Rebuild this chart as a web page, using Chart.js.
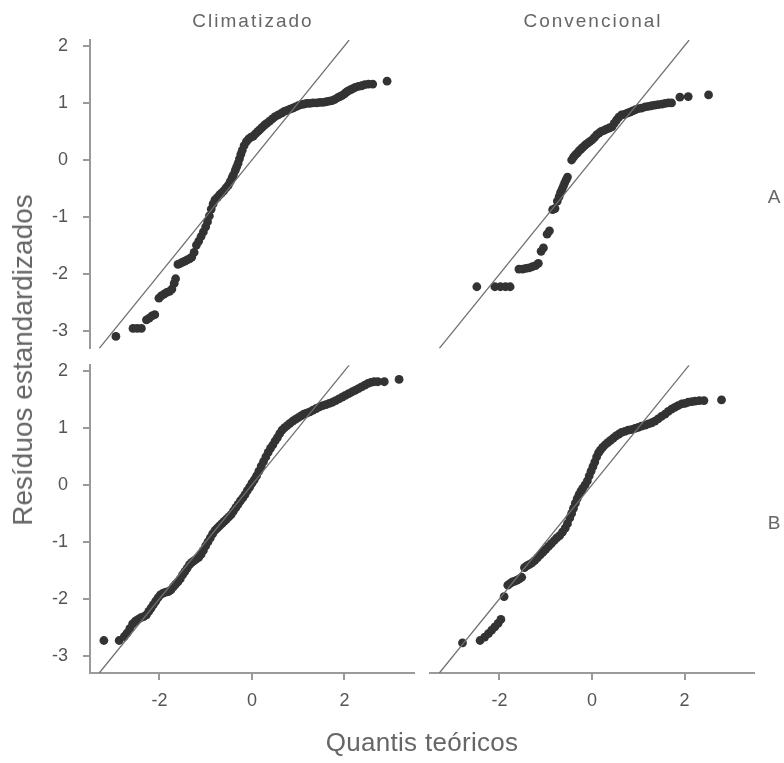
<!DOCTYPE html>
<html>
<head>
<meta charset="utf-8">
<script src="https://cdn.jsdelivr.net/npm/chart.js@4.4.0/dist/chart.umd.min.js"></script>
<style>
html,body{margin:0;padding:0;background:#fff;}
#wrap{position:relative;width:784px;height:763px;overflow:hidden;font-family:"Liberation Sans",Arial,sans-serif;}
canvas{position:absolute;}
.t{position:absolute;transform:translate(-50%,-50%);white-space:nowrap;color:#666;line-height:1;}
</style>
</head>
<body>
<div id="wrap">
  <canvas id="tl" width="420" height="360" style="left:0;top:0;"></canvas>
  <canvas id="tr" width="364" height="360" style="left:420px;top:0;"></canvas>
  <canvas id="bl" width="420" height="400" style="left:0;top:340px;"></canvas>
  <canvas id="br" width="364" height="400" style="left:420px;top:340px;"></canvas>
  <div class="t" id="colA" style="left:253px;top:20px;font-size:19px;letter-spacing:2px;">Climatizado</div>
  <div class="t" id="colB" style="left:593px;top:20px;font-size:19px;letter-spacing:2px;">Convencional</div>
  <div class="t" id="rowA" style="left:774px;top:196px;font-size:19px;">A</div>
  <div class="t" id="rowB" style="left:774px;top:522px;font-size:19px;">B</div>
  <div class="t" id="ytitle" style="left:23px;top:360px;font-size:28px;transform:translate(-50%,-50%) rotate(-90deg);">Resíduos estandardizados</div>
  <div class="t" id="xtitle" style="left:422px;top:742px;font-size:26px;letter-spacing:0.3px;">Quantis teóricos</div>
</div>
<script>
// ---- data (theoretical quantile, standardized residual) ----
const columnTitles = ["Climatizado", "Convencional"];
const rowTitles = ["A", "B"];
const xTickValues = [-2, 0, 2];
const yTickValues = [-3, -2, -1, 0, 1, 2];
const refLine = [-3.3, 2.1]; // y = x reference line ends

const climatizadoA = [
[-2.94,-3.09],
[-2.57,-2.95],[-2.48,-2.95],[-2.39,-2.95],
[-2.28,-2.80],[-2.22,-2.77],[-2.16,-2.73],[-2.10,-2.71],
[-2.01,-2.42],[-1.96,-2.38],[-1.90,-2.35],[-1.84,-2.32],[-1.78,-2.30],[-1.73,-2.26],[-1.68,-2.16],[-1.65,-2.08],
[-1.60,-1.83],[-1.55,-1.81],[-1.50,-1.79],[-1.45,-1.77],[-1.40,-1.75],[-1.35,-1.73],
[-1.30,-1.70],[-1.25,-1.62],[-1.20,-1.49],[-1.15,-1.42],[-1.10,-1.34],[-1.05,-1.26],[-1.00,-1.17],
[-0.96,-1.08],[-0.92,-0.98],[-0.88,-0.86],[-0.84,-0.77],[-0.80,-0.70],[-0.75,-0.66],[-0.70,-0.61],
[-0.66,-0.58],[-0.61,-0.54],[-0.56,-0.49],[-0.51,-0.44],[-0.47,-0.38],[-0.43,-0.31],[-0.40,-0.26],
[-0.36,-0.18],[-0.33,-0.12],[-0.30,-0.06],[-0.27,0.02],[-0.24,0.10],[-0.21,0.17],[-0.17,0.25],
[-0.12,0.32],[-0.07,0.37],[-0.02,0.40],[0.03,0.42],[0.08,0.46],[0.13,0.50],[0.17,0.53],[0.22,0.57],
[0.27,0.61],[0.32,0.64],[0.38,0.68],[0.44,0.72],[0.50,0.76],[0.57,0.79],[0.64,0.82],[0.70,0.85],
[0.76,0.87],[0.82,0.89],[0.88,0.91],[0.94,0.93],[1.00,0.95],[1.06,0.97],[1.12,0.98],[1.18,0.99],
[1.25,0.99],[1.32,1.00],[1.40,1.00],[1.47,1.01],[1.54,1.01],[1.61,1.02],[1.67,1.03],[1.73,1.04],
[1.79,1.06],[1.85,1.09],[1.90,1.11],[1.95,1.13],[2.00,1.16],[2.04,1.19],[2.08,1.21],[2.13,1.23],
[2.18,1.25],[2.23,1.27],[2.30,1.29],[2.37,1.30],[2.44,1.32],[2.52,1.33],[2.61,1.33],
[2.92,1.38]
];

const convencionalA = [
[-2.49,-2.22],
[-2.10,-2.22],[-1.98,-2.22],[-1.87,-2.22],[-1.77,-2.22],
[-1.58,-1.91],[-1.50,-1.91],[-1.43,-1.90],[-1.36,-1.89],[-1.29,-1.87],[-1.22,-1.85],[-1.16,-1.81],
[-1.10,-1.60],[-1.05,-1.54],
[-0.97,-1.30],[-0.92,-1.24],
[-0.85,-0.87],[-0.80,-0.85],
[-0.75,-0.72],[-0.71,-0.64],[-0.68,-0.57],[-0.65,-0.52],[-0.62,-0.46],[-0.59,-0.40],[-0.56,-0.35],[-0.53,-0.30],
[-0.44,0.00],[-0.40,0.05],[-0.36,0.09],[-0.32,0.12],[-0.28,0.16],[-0.24,0.19],[-0.20,0.22],[-0.15,0.26],
[-0.10,0.29],[-0.05,0.32],[0.00,0.35],[0.05,0.39],[0.10,0.44],[0.15,0.47],[0.20,0.50],[0.26,0.52],
[0.31,0.54],[0.37,0.56],[0.43,0.58],[0.48,0.64],[0.53,0.70],[0.58,0.75],[0.64,0.79],[0.70,0.80],
[0.76,0.82],[0.82,0.84],[0.88,0.86],[0.94,0.88],[1.00,0.90],[1.07,0.91],[1.15,0.93],[1.22,0.94],
[1.29,0.95],[1.36,0.96],[1.43,0.97],[1.51,0.98],[1.58,0.99],[1.65,1.00],[1.72,1.00],
[1.90,1.10],[2.08,1.11],
[2.52,1.14]
];

const climatizadoB = [
[-3.20,-2.73],
[-2.87,-2.73],
[-2.76,-2.66],[-2.70,-2.60],[-2.64,-2.52],
[-2.58,-2.44],[-2.52,-2.39],[-2.46,-2.36],[-2.40,-2.33],[-2.34,-2.31],[-2.28,-2.28],
[-2.23,-2.22],[-2.18,-2.16],[-2.13,-2.10],[-2.08,-2.04],[-2.03,-1.98],[-1.98,-1.93],[-1.92,-1.90],
[-1.86,-1.88],[-1.80,-1.87],[-1.75,-1.84],[-1.70,-1.79],[-1.65,-1.74],[-1.60,-1.70],[-1.55,-1.65],
[-1.50,-1.58],[-1.45,-1.52],[-1.40,-1.46],[-1.35,-1.40],[-1.30,-1.36],[-1.25,-1.33],[-1.20,-1.30],
[-1.15,-1.27],[-1.10,-1.22],[-1.05,-1.15],[-1.00,-1.07],[-0.95,-1.00],[-0.90,-0.93],[-0.85,-0.86],
[-0.80,-0.80],[-0.75,-0.76],[-0.70,-0.72],[-0.65,-0.68],[-0.60,-0.64],[-0.55,-0.60],[-0.50,-0.56],
[-0.45,-0.52],[-0.40,-0.46],[-0.35,-0.40],[-0.30,-0.34],[-0.25,-0.28],[-0.20,-0.23],[-0.15,-0.17],
[-0.10,-0.10],[-0.05,-0.04],[0.00,0.03],[0.05,0.09],[0.10,0.16],[0.15,0.24],[0.20,0.33],[0.25,0.41],
[0.30,0.49],[0.35,0.57],[0.40,0.64],[0.45,0.70],[0.50,0.77],[0.55,0.83],[0.60,0.90],[0.65,0.96],
[0.70,1.00],[0.76,1.04],[0.82,1.08],[0.88,1.12],[0.94,1.15],[1.00,1.18],[1.06,1.21],[1.12,1.24],
[1.18,1.26],[1.25,1.28],[1.32,1.31],[1.39,1.34],[1.46,1.37],[1.53,1.39],[1.60,1.41],[1.67,1.43],
[1.74,1.45],[1.81,1.48],[1.88,1.51],[1.95,1.54],[2.02,1.57],[2.09,1.60],[2.16,1.63],[2.23,1.66],
[2.30,1.69],[2.37,1.72],[2.44,1.75],[2.51,1.78],[2.57,1.80],[2.64,1.81],[2.72,1.81],[2.86,1.81],
[3.18,1.85]
];

const convencionalB = [
[-2.80,-2.77],
[-2.42,-2.73],[-2.32,-2.67],[-2.24,-2.61],[-2.17,-2.55],[-2.10,-2.49],[-2.03,-2.43],[-1.97,-2.36],
[-1.90,-1.96],
[-1.82,-1.76],[-1.77,-1.73],[-1.72,-1.70],[-1.67,-1.69],[-1.62,-1.67],[-1.57,-1.65],[-1.52,-1.62],
[-1.46,-1.45],[-1.41,-1.42],[-1.36,-1.40],[-1.30,-1.37],[-1.24,-1.33],[-1.18,-1.28],[-1.12,-1.23],
[-1.06,-1.18],[-1.00,-1.13],[-0.94,-1.08],[-0.88,-1.03],[-0.82,-0.98],[-0.76,-0.93],[-0.70,-0.89],
[-0.64,-0.83],[-0.58,-0.76],[-0.53,-0.68],[-0.48,-0.58],[-0.44,-0.50],[-0.40,-0.41],[-0.36,-0.32],
[-0.32,-0.24],[-0.28,-0.17],[-0.24,-0.11],[-0.20,-0.06],[-0.15,0.00],[-0.10,0.07],[-0.06,0.16],
[-0.02,0.24],[0.02,0.32],[0.06,0.40],[0.10,0.49],[0.14,0.56],[0.18,0.61],[0.23,0.66],[0.28,0.70],
[0.34,0.74],[0.40,0.78],[0.46,0.82],[0.52,0.86],[0.58,0.89],[0.64,0.92],[0.71,0.94],[0.78,0.96],
[0.85,0.97],[0.93,0.99],[1.00,1.01],[1.07,1.03],[1.15,1.05],[1.22,1.07],[1.29,1.09],[1.36,1.12],
[1.43,1.16],[1.50,1.20],[1.58,1.24],[1.65,1.29],[1.72,1.33],[1.79,1.36],[1.86,1.39],[1.94,1.42],
[2.01,1.43],[2.08,1.45],[2.16,1.46],[2.23,1.47],[2.32,1.48],[2.42,1.48],
[2.80,1.49]
];

// ---- drawing ----
const FONT = "'Liberation Sans', Arial, sans-serif";
const AXIS_COLOR = '#9a9a9a';
const TICK_COLOR = '#555';

function makePanel(id, points, o) {
  const xScale = {
    type: 'linear', min: -3.5, max: 3.5, display: o.showX, offset: false,
    afterBuildTicks: s => { s.ticks = xTickValues.map(v => ({ value: v })); },
    border: { display: true, color: AXIS_COLOR, width: 2 },
    grid: { drawOnChartArea: false, drawTicks: true, tickLength: 7, color: AXIS_COLOR, lineWidth: 2 },
    ticks: { color: TICK_COLOR, font: { family: FONT, size: 18 }, padding: 10, maxRotation: 0, autoSkip: false }
  };
  if (o.showX) xScale.afterFit = s => { s.height = 67; s.paddingLeft = 0; s.paddingRight = 0; };
  const yScale = {
    type: 'linear', min: -3.3, max: 2.1, display: o.showY, offset: false,
    afterBuildTicks: s => { s.ticks = yTickValues.map(v => ({ value: v })); },
    border: { display: true, color: AXIS_COLOR, width: 2 },
    grid: { drawOnChartArea: false, drawTicks: true, tickLength: 7, color: AXIS_COLOR, lineWidth: 2 },
    ticks: { color: TICK_COLOR, font: { family: FONT, size: 18 }, padding: 15, autoSkip: false }
  };
  if (o.showY) yScale.afterFit = s => { s.width = 90; s.paddingTop = 0; s.paddingBottom = 0; };
  return new Chart(document.getElementById(id), {
    type: 'scatter',
    data: {
      datasets: [
        {
          data: refLine.map(v => ({ x: v, y: v })),
          showLine: true, borderColor: '#707070', borderWidth: 1.3,
          pointRadius: 0, order: 0
        },
        {
          data: points.map(p => ({ x: p[0], y: p[1] })),
          backgroundColor: '#333333', borderWidth: 0, pointRadius: 4.4, order: 1
        }
      ]
    },
    options: {
      responsive: false, animation: false, events: [],
      layout: { autoPadding: false, padding: o.pad },
      plugins: { legend: { display: false }, tooltip: { enabled: false }, title: { display: false } },
      scales: { x: xScale, y: yScale }
    }
  });
}

makePanel('tl', climatizadoA, { showX: false, showY: true, pad: { left: 0, right: 6.1, top: 40.1, bottom: 11.6 } });
makePanel('tr', convencionalA, { showX: false, showY: false, pad: { left: 10.1, right: 30.1, top: 40.1, bottom: 11.6 } });
makePanel('bl', climatizadoB, { showX: true, showY: true, pad: { left: 0, right: 6.1, top: 25.2, bottom: 0 } });
makePanel('br', convencionalB, { showX: true, showY: false, pad: { left: 10.1, right: 30.1, top: 25.2, bottom: 0 } });
</script>
</body>
</html>
